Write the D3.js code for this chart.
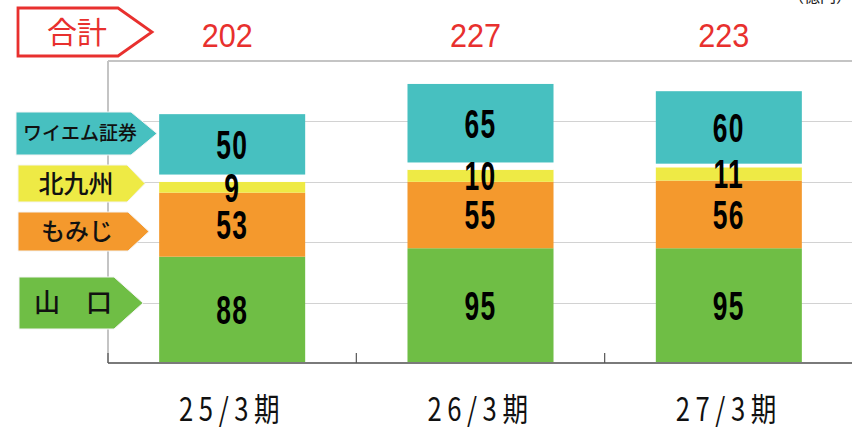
<!DOCTYPE html>
<html>
<head>
<meta charset="utf-8">
<script src="https://cdn.jsdelivr.net/npm/d3@7"></script>
<style>
  body { margin: 0; background: #fff; }
  svg { display: block; }
</style>
</head>
<body>
<div id="chart"></div>
<script>
// stacked bars: segment companies per fiscal year

var categories = ["25/3期", "26/3期", "27/3期"];
var totals = [202, 227, 223];
var yamaguchi = [88, 95, 95];
var momiji = [53, 55, 56];
var kitakyushu = [9, 10, 11];
var spacer = [6, 6, 3];   // white gap between 北九州 and ワイエム証券
var ymSec = [50, 65, 60];
var seriesNames = ["山　口", "もみじ", "北九州", "", "ワイエム証券"];
var yTicks = [0, 50, 100, 150, 200, 250];

var colors = ["#6fbe45", "#f4992d", "#eeea45", "#ffffff", "#47c0c0"];
var red = "#e8302e";

var svgWidth = 852, svgHeight = 429;
var plot = { left: 108, right: 853, top: 61, bottom: 363 };

var svg = d3.select("#chart").append("svg")
  .attr("width", svgWidth)
  .attr("height", svgHeight);

var x = d3.scaleBand().domain(categories).range([plot.left, plot.right]).padding(0);
var y = d3.scaleLinear().domain([0, 250]).range([plot.bottom, plot.top]);
var barW = x.bandwidth() * 0.588;

var table = categories.map(function (c, i) {
  return { cat: c, s0: yamaguchi[i], s1: momiji[i], s2: kitakyushu[i], s3: spacer[i], s4: ymSec[i] };
});
var keys = ["s0", "s1", "s2", "s3", "s4"];
var stacked = d3.stack().keys(keys)(table);

// gridlines
svg.append("g")
  .selectAll("line")
  .data(yTicks.filter(function (t) { return t > 0 && t < 250; }))
  .enter().append("line")
  .attr("x1", plot.left).attr("x2", svgWidth)
  .attr("y1", function (d) { return Math.round(y(d)) + 0.5; })
  .attr("y2", function (d) { return Math.round(y(d)) + 0.5; })
  .attr("stroke", "#d2d2d2")
  .attr("stroke-width", 1);

// top frame line
svg.append("line")
  .attr("x1", plot.left).attr("x2", svgWidth)
  .attr("y1", y(250)).attr("y2", y(250))
  .attr("stroke", "#c4c4c4").attr("stroke-width", 2);

// left axis line
svg.append("line")
  .attr("x1", plot.left).attr("x2", plot.left)
  .attr("y1", y(250)).attr("y2", y(0))
  .attr("stroke", "#c4c4c4").attr("stroke-width", 2);

// bars
var layers = svg.append("g").selectAll("g")
  .data(stacked)
  .enter().append("g")
  .attr("fill", function (d, i) { return colors[i]; });

layers.selectAll("rect")
  .data(function (d) { return d; })
  .enter().append("rect")
  .attr("x", function (d) { return x(d.data.cat) + (x.bandwidth() - barW) / 2; })
  .attr("y", function (d) { return y(d[1]); })
  .attr("width", barW)
  .attr("height", function (d) { return y(d[0]) - y(d[1]); });

// segment values
stacked.forEach(function (layer, li) {
  if (keys[li] === "s3") return;
  svg.append("g").selectAll("text")
    .data(layer)
    .enter().append("text")
    .attr("transform", function (d) {
      var cx = x(d.data.cat) + x.bandwidth() / 2;
      var cy = (y(d[0]) + y(d[1])) / 2;
      return "translate(" + cx + "," + cy + ") scale(0.66,1)";
    })
    .attr("text-anchor", "middle")
    .attr("dy", "0.36em")
    .attr("font-family", "'Liberation Sans', Arial, sans-serif")
    .attr("font-weight", "bold")
    .attr("font-size", 40)
    .attr("letter-spacing", 2)
    .attr("fill", "#000")
    .text(function (d) { return d[1] - d[0]; });
});

// bottom axis
var xAxis = svg.append("g")
  .attr("transform", "translate(0," + plot.bottom + ")")
  .call(d3.axisBottom(x).tickSize(0).tickFormat(""));
xAxis.select(".domain").attr("stroke", "#7a7a7a").attr("stroke-width", 2.2)
  .attr("d", "M" + plot.left + ",0H" + svgWidth);

// category boundary ticks
svg.append("g").selectAll("line")
  .data(categories)
  .enter().append("line")
  .attr("x1", function (d) { return x(d); })
  .attr("x2", function (d) { return x(d); })
  .attr("y1", plot.bottom - 10).attr("y2", plot.bottom)
  .attr("stroke", "#555").attr("stroke-width", 1.2);

// category labels
svg.append("g").selectAll("text")
  .data(categories)
  .enter().append("text")
  .attr("transform", function (d) {
    return "translate(" + (x(d) + x.bandwidth() / 2) + ",421) scale(0.8,1)";
  })
  .attr("text-anchor", "middle")
  .attr("font-family", "'Noto Sans CJK JP', sans-serif")
  .attr("font-size", 32)
  .attr("letter-spacing", 7)
  .attr("fill", "#111")
  .text(function (d) { return d; });

// totals
svg.append("g").selectAll("text")
  .data(totals)
  .enter().append("text")
  .attr("transform", function (d, i) {
    return "translate(" + (x(categories[i]) + x.bandwidth() / 2 - 5) + ",47) scale(0.9,1)";
  })
  .attr("text-anchor", "middle")
  .attr("font-family", "'Liberation Sans', Arial, sans-serif")
  .attr("font-size", 34)
  .attr("fill", red)
  .text(function (d) { return d; });

// unit note (cut off at top edge)
svg.append("text")
  .attr("x", 852).attr("y", 2)
  .attr("text-anchor", "end")
  .attr("font-family", "'Noto Sans CJK JP', sans-serif")
  .attr("font-size", 16)
  .attr("fill", "#222")
  .text("（億円）");

// legend tags on the left
function tagPath(x0, rectEnd, tip, y0, y1) {
  var ym = (y0 + y1) / 2;
  return "M" + x0 + "," + y0 + "H" + rectEnd + "L" + tip + "," + ym +
    "L" + rectEnd + "," + y1 + "H" + x0 + "Z";
}

var tags = [
  { name: seriesNames[4], fill: colors[4], x0: 16, re: 131, tip: 157, y0: 112, y1: 155, fs: 19, tx: 80 },
  { name: seriesNames[2], fill: colors[2], x0: 18, re: 127, tip: 145, y0: 165, y1: 202, fs: 25, tx: 76 },
  { name: seriesNames[1], fill: colors[1], x0: 18, re: 128, tip: 149, y0: 212, y1: 251, fs: 24, tx: 77 },
  { name: seriesNames[0], fill: colors[0], x0: 19, re: 114, tip: 143, y0: 277, y1: 329, fs: 26, tx: 73 }
];

var tag = svg.append("g").selectAll("g")
  .data(tags)
  .enter().append("g");

tag.append("path")
  .attr("d", function (d) { return tagPath(d.x0, d.re, d.tip, d.y0, d.y1); })
  .attr("fill", function (d) { return d.fill; })
  .attr("stroke", "#f4f4f4")
  .attr("stroke-width", 1);

tag.append("text")
  .attr("x", function (d) { return d.tx; })
  .attr("y", function (d) { return (d.y0 + d.y1) / 2; })
  .attr("dy", "0.36em")
  .attr("text-anchor", "middle")
  .attr("font-family", "'Noto Sans CJK JP', sans-serif")
  .attr("font-weight", 500)
  .attr("font-size", function (d) { return d.fs; })
  .attr("fill", "#111")
  .text(function (d) { return d.name; });

// 合計 tag
svg.append("path")
  .attr("d", tagPath(18, 118, 152, 8, 56))
  .attr("fill", "#fff")
  .attr("stroke", red)
  .attr("stroke-width", 2.8);

svg.append("text")
  .attr("x", 77).attr("y", 32)
  .attr("dy", "0.36em")
  .attr("text-anchor", "middle")
  .attr("font-family", "'Noto Sans CJK JP', sans-serif")
  .attr("font-size", 30)
  .attr("fill", red)
  .text("合計");
</script>
</body>
</html>
